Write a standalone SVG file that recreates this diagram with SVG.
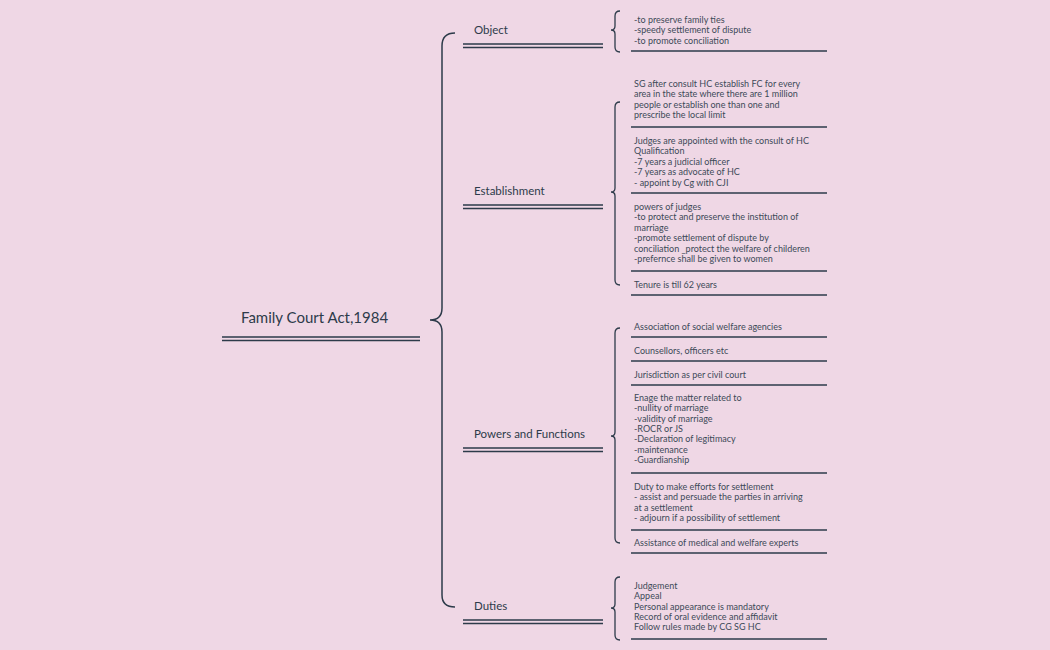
<svg xmlns="http://www.w3.org/2000/svg" width="1050" height="650" viewBox="0 0 1050 650">
<style>
.bg{fill:#efd7e5}
.ln{stroke:#2d3b4a;stroke-width:1.5;fill:none}
.br{stroke:#2d3b4a;stroke-width:1.3;fill:none}
.leaf{font-family:Lato,"Noto Sans",sans-serif;font-size:9px;fill:#3d4a58}
.br1{font-family:Lato,"Noto Sans",sans-serif;font-size:11.5px;fill:#2d3b4a}
.root{font-family:Lato,"Noto Sans",sans-serif;font-size:15px;fill:#2d3b4a}
</style>
<rect class="bg" width="1050" height="650"/>
<g id="connectors">
<path class="ln" stroke-width="2" d="M455,33 Q442,33 442,46 L442,308 Q442,320 430,320 Q442,320 442,332 L442,595 Q442,607 455,607"/>
<path class="br" d="M620,11 Q615,11 615,16 L615,26 Q615,30 611,30 Q615,30 615,34 L615,47 Q615,52 620,52"/>
<path class="br" d="M620,102 Q615,102 615,107 L615,188 Q615,192 611,192 Q615,192 615,196 L615,280 Q615,285 620,285"/>
<path class="br" d="M620,328 Q615,328 615,333 L615,432 Q615,436 611,436 Q615,436 615,440 L615,538 Q615,543 620,543"/>
<path class="br" d="M620,577 Q615,577 615,582 L615,604 Q615,608 611,608 Q615,608 615,612 L615,635 Q615,640 620,640"/>
</g>
<g id="root"><text class="root" x="241" y="323">Family Court Act,1984</text>
<path class="ln" d="M222,337H420M222,340.5H420"/></g>
<g id="object"><text class="br1" x="474" y="34">Object</text><path class="ln" d="M463,44H603M463,47.5H603"/></g>
<g id="establishment"><text class="br1" x="474" y="195">Establishment</text><path class="ln" d="M463,205H603M463,208.5H603"/></g>
<g id="powers"><text class="br1" x="474" y="438">Powers and Functions</text><path class="ln" d="M463,448H603M463,451.5H603"/></g>
<g id="duties"><text class="br1" x="474" y="610">Duties</text><path class="ln" d="M463,620H603M463,623.5H603"/></g>
<g id="leaf-object"><text class="leaf" x="634" y="23"><tspan x="634">-to preserve family ties</tspan><tspan x="634" dy="10.4">-speedy settlement of dispute</tspan><tspan x="634" dy="10.4">-to promote conciliation</tspan></text><path class="ln" d="M631,51H827"/></g>
<g id="leaf-e1"><text class="leaf" x="634" y="87"><tspan x="634">SG after consult HC establish FC for every</tspan><tspan x="634" dy="10.4">area in the state where there are 1 million</tspan><tspan x="634" dy="10.4">people or establish one than one and</tspan><tspan x="634" dy="10.4">prescribe the local limit</tspan></text><path class="ln" d="M631,127H827"/></g>
<g id="leaf-e2"><text class="leaf" x="634" y="144"><tspan x="634">Judges are appointed with the consult of HC</tspan><tspan x="634" dy="10.4">Qualification</tspan><tspan x="634" dy="10.4">-7 years a judicial officer</tspan><tspan x="634" dy="10.4">-7 years as advocate of HC</tspan><tspan x="634" dy="10.4">- appoint by Cg with CJI</tspan></text><path class="ln" d="M631,193H827"/></g>
<g id="leaf-e3"><text class="leaf" x="634" y="210"><tspan x="634">powers of judges</tspan><tspan x="634" dy="10.4">-to protect and preserve the institution of</tspan><tspan x="634" dy="10.4">marriage</tspan><tspan x="634" dy="10.4">-promote settlement of dispute by</tspan><tspan x="634" dy="10.4">conciliation _protect the welfare of childeren</tspan><tspan x="634" dy="10.4">-prefernce shall be given to women</tspan></text><path class="ln" d="M631,271H827"/></g>
<g id="leaf-e4"><text class="leaf" x="634" y="288">Tenure is till 62 years</text><path class="ln" d="M631,295H827"/></g>
<g id="leaf-p1"><text class="leaf" x="634" y="330">Association of social welfare agencies</text><path class="ln" d="M631,337H827"/></g>
<g id="leaf-p2"><text class="leaf" x="634" y="354">Counsellors, officers etc</text><path class="ln" d="M631,361H827"/></g>
<g id="leaf-p3"><text class="leaf" x="634" y="378">Jurisdiction as per civil court</text><path class="ln" d="M631,385H827"/></g>
<g id="leaf-p4"><text class="leaf" x="634" y="401"><tspan x="634">Enage the matter related to</tspan><tspan x="634" dy="10.3">-nullity of marriage</tspan><tspan x="634" dy="10.3">-validity of marriage</tspan><tspan x="634" dy="10.3">-ROCR or JS</tspan><tspan x="634" dy="10.3">-Declaration of legitimacy</tspan><tspan x="634" dy="10.3">-maintenance</tspan><tspan x="634" dy="10.3">-Guardianship</tspan></text><path class="ln" d="M631,473H827"/></g>
<g id="leaf-p5"><text class="leaf" x="634" y="490"><tspan x="634">Duty to make efforts for settlement</tspan><tspan x="634" dy="10.4">- assist and persuade the parties in arriving</tspan><tspan x="634" dy="10.4">at a settlement</tspan><tspan x="634" dy="10.4">- adjourn if a possibility of settlement</tspan></text><path class="ln" d="M631,530H827"/></g>
<g id="leaf-p6"><text class="leaf" x="634" y="546">Assistance of medical and welfare experts</text><path class="ln" d="M631,553H827"/></g>
<g id="leaf-d"><text class="leaf" x="634" y="589"><tspan x="634">Judgement</tspan><tspan x="634" dy="10.3">Appeal</tspan><tspan x="634" dy="10.3">Personal appearance is mandatory</tspan><tspan x="634" dy="10.3">Record of oral evidence and affidavit</tspan><tspan x="634" dy="10.3">Follow rules made by CG SG HC</tspan></text><path class="ln" d="M631,639H827"/></g>
</svg>
